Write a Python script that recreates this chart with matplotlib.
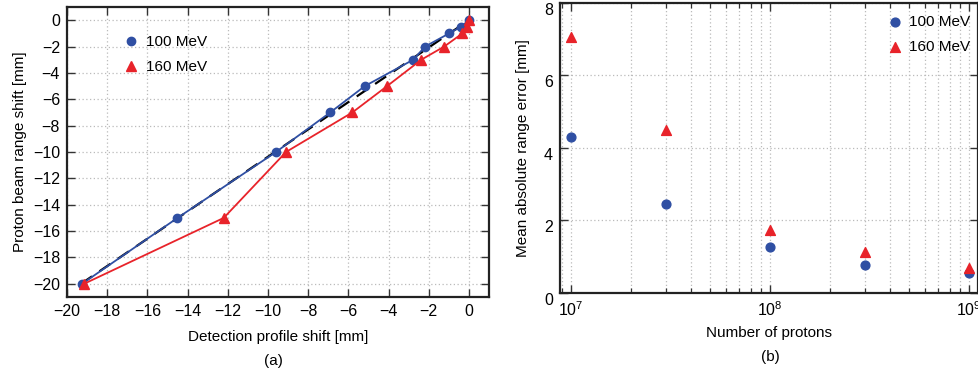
import numpy as np
import matplotlib
matplotlib.use("Agg")
import matplotlib.pyplot as plt
from matplotlib.ticker import LogLocator, NullFormatter
from matplotlib.transforms import ScaledTranslation

plt.rcParams['font.family'] = ['Liberation Sans', 'DejaVu Sans']

# Panel (a): range shift vs detection profile shift
range_shift = [-20, -15, -10, -7, -5, -3, -2, -1, -0.5, 0]
profile_100 = [-19.25, -14.5, -9.6, -6.9, -5.18, -2.77, -2.18, -0.98, -0.4, 0]
profile_160 = [-19.15, -12.2, -9.1, -5.8, -4.07, -2.37, -1.23, -0.32, -0.1, 0]
ideal_x = [-19.3, 0]
ideal_y = [-20, 0]

# Panel (b): mean absolute range error vs number of protons
n_protons = [1e7, 3e7, 1e8, 3e8, 1e9]
err_100 = [4.3, 2.46, 1.28, 0.76, 0.56]
err_160 = [7.06, 4.49, 1.74, 1.12, 0.70]

blue = '#2f4fa3'
red = '#e8232a'
grid_kw = dict(color='#bbbbbb', linestyle=(0, (1, 2)), linewidth=0.9)

fig = plt.figure(figsize=(9.79, 3.74), dpi=100)
ax1 = fig.add_axes([0.0684, 0.2059, 0.4311, 0.7754])
ax2 = fig.add_axes([0.572, 0.2166, 0.427, 0.7754])

for ax in (ax1, ax2):
    for s in ax.spines.values():
        s.set_linewidth(1.6)
        s.set_color('#222222')
    ax.tick_params(direction='in', top=True, right=True, labelsize=11.5,
                   width=1.0, length=6, color='#333333', pad=5)
    ax.tick_params(which='minor', direction='in', top=True, right=True,
                   width=0.9, length=3.5, color='#333333')


def minus_labels(vals):
    return [f'\u2212{-v}' if v < 0 else str(v) for v in vals]


# ---- (a)
ax1.plot(ideal_x, ideal_y, color='black', linestyle=(0, (6, 4)), linewidth=1.6, zorder=2)
ax1.plot(profile_100, range_shift, color=blue, linewidth=1.3, marker='o',
         markersize=6, label='100 MeV', zorder=3)
ax1.plot(profile_160, range_shift, color=red, linewidth=1.3, marker='^',
         markersize=7, label='160 MeV', zorder=3)
ax1.set_xlim(-20, 1)
ax1.set_ylim(-21, 1)
ticks_a = list(range(-20, 1, 2))
ax1.set_xticks(ticks_a)
ax1.set_yticks(ticks_a)
ax1.set_xticklabels(minus_labels(ticks_a))
ax1.set_yticklabels(minus_labels(ticks_a))
ax1.grid(True, **grid_kw)
ax1.set_axisbelow(True)
ax1.set_xlabel('Detection profile shift [mm]', fontsize=11, labelpad=8)
ax1.set_ylabel('Proton beam range shift [mm]', fontsize=11, labelpad=4)
l = ['100 MeV', '160 MeV']
ax1.legend([plt.Line2D([], [], color=blue, marker='o', linestyle='none', markersize=6),
            plt.Line2D([], [], color=red, marker='^', linestyle='none', markersize=7)],
           l, loc='upper left', bbox_to_anchor=(0.1, 0.95), frameon=False,
           fontsize=11, handlelength=1.0, handletextpad=0.5, labelspacing=0.7)

# ---- (b)
ax2.scatter(n_protons, err_100, color=blue, marker='o', s=40, label='100 MeV', zorder=3)
ax2.scatter(n_protons, err_160, color=red, marker='^', s=50, label='160 MeV', zorder=3)
ax2.set_xscale('log')
ax2.set_xlim(8.8e6, 1.11e9)
ax2.set_ylim(0, 8)
ax2.set_yticks([0, 2, 4, 6, 8])
ax2.xaxis.set_minor_locator(LogLocator(base=10, subs=np.arange(2, 10)))
ax2.xaxis.set_minor_formatter(NullFormatter())
ax2.grid(True, which='major', **grid_kw)
ax2.grid(True, which='minor', axis='x', **grid_kw)
ax2.set_axisbelow(True)
ax2.set_xlabel('Number of protons', fontsize=11, labelpad=5)
ax2.set_ylabel('Mean absolute range error [mm]', fontsize=11, labelpad=10)
ax2.legend(loc='upper right', bbox_to_anchor=(1.01, 1.0), frameon=False, fontsize=11,
           handlelength=1.0, handletextpad=0.4, labelspacing=0.7, borderpad=0.3)
# y tick labels sit a little low in the original
shift = ScaledTranslation(0, -4 / 72, fig.dpi_scale_trans)
for lab in ax2.get_yticklabels():
    lab.set_transform(lab.get_transform() + shift)

fig.text(0.2791, 0.035, '(a)', ha='center', va='center', fontsize=11)
fig.text(0.7865, 0.045, '(b)', ha='center', va='center', fontsize=11)

fig.savefig('out.png', dpi=100)
